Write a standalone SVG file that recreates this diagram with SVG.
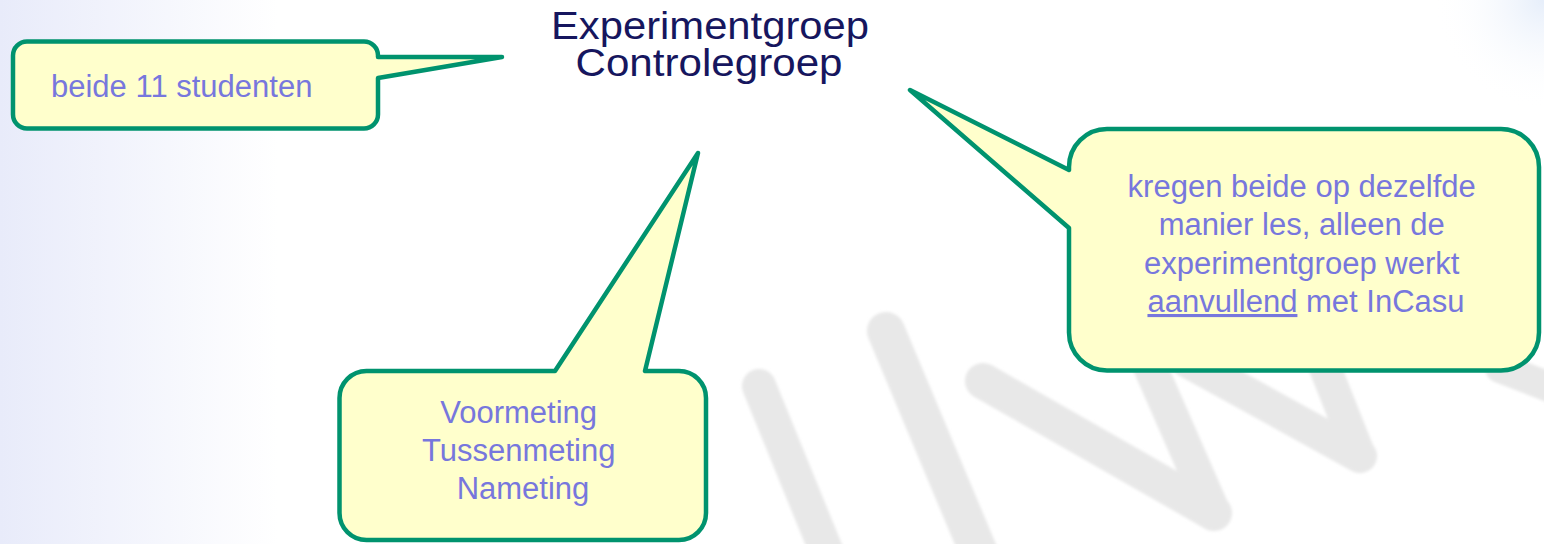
<svg xmlns="http://www.w3.org/2000/svg" width="1544" height="544" viewBox="0 0 1544 544">
  <defs>
    <linearGradient id="bgLeft" x1="0" y1="0" x2="1" y2="0" gradientUnits="objectBoundingBox">
      <stop offset="0" stop-color="#E8EBFA"/>
      <stop offset="0.18" stop-color="#FFFFFF"/>
      <stop offset="1" stop-color="#FFFFFF"/>
    </linearGradient>
    <radialGradient id="bgTR" cx="1544" cy="0" r="110" gradientUnits="userSpaceOnUse">
      <stop offset="0" stop-color="#E6EEFA"/>
      <stop offset="1" stop-color="#FFFFFF" stop-opacity="0"/>
    </radialGradient>
    <filter id="soft" x="-10%" y="-10%" width="120%" height="120%">
      <feGaussianBlur stdDeviation="1.5"/>
    </filter>
    <style>
      .bubble { fill: #FFFFCC; stroke: #00936E; stroke-width: 4.5; stroke-linejoin: round; }
      .btext { font-family: "Liberation Sans", Arial, sans-serif; font-size: 31px; fill: #7777DD; }
      .title { font-family: "Liberation Sans", Arial, sans-serif; font-size: 38px; fill: #16165E; text-anchor: middle; }
      .wm { fill: none; stroke: #E8E8E8; stroke-linecap: round; }
    </style>
  </defs>

  <!-- background -->
  <rect x="0" y="0" width="1544" height="544" fill="url(#bgLeft)"/>
  <rect x="1400" y="0" width="144" height="140" fill="url(#bgTR)"/>

  <!-- watermark -->
  <g id="watermark" filter="url(#soft)">
    <line class="wm" x1="759" y1="386" x2="830" y2="560" stroke-width="34"/>
    <line class="wm" x1="886" y1="331" x2="982" y2="560" stroke-width="38"/>
    <line class="wm" x1="983" y1="381" x2="1214" y2="513" stroke-width="36"/>
    <line class="wm" x1="1214" y1="513" x2="1134" y2="330" stroke-width="34"/>
    <line class="wm" x1="1186" y1="360" x2="1360" y2="456" stroke-width="34"/>
    <line class="wm" x1="1360" y1="456" x2="1318" y2="350" stroke-width="32"/>
    <line class="wm" x1="1500" y1="368" x2="1570" y2="395" stroke-width="30"/>
  </g>

  <!-- title -->
  <g id="title">
    <text class="title" x="710" y="39" textLength="318" lengthAdjust="spacingAndGlyphs">Experimentgroep</text>
    <text class="title" x="709" y="76" textLength="267" lengthAdjust="spacingAndGlyphs">Controlegroep</text>
  </g>

  <!-- callouts -->
  <g id="callout-studenten">
    <path class="bubble" d="M 27,41.5 H 364 A 14 14 0 0 1 378,55.5 V 57 L 502,57 L 378,78 V 114.5 A 14 14 0 0 1 364,128.5 H 27 A 14 14 0 0 1 13,114.5 V 55.5 A 14 14 0 0 1 27,41.5 Z"/>
    <text class="btext" x="51" y="97">beide 11 studenten</text>
  </g>

  <g id="callout-metingen">
    <path class="bubble" d="M 366.5,371 H 555 L 698,153 L 645,371 H 679 A 27 27 0 0 1 706,398 V 513 A 27 27 0 0 1 679,540 H 366.5 A 27 27 0 0 1 339.5,513 V 398 A 27 27 0 0 1 366.5,371 Z"/>
    <text class="btext" text-anchor="middle">
      <tspan x="523" y="423">Voormeting</tspan>
      <tspan x="523" y="461">Tussenmeting</tspan>
      <tspan x="523" y="499">Nameting</tspan>
    </text>
  </g>

  <g id="callout-les">
    <path class="bubble" d="M 1107,129 H 1501 A 38 38 0 0 1 1539,167 V 332.5 A 38 38 0 0 1 1501,370.5 H 1107 A 38 38 0 0 1 1069,332.5 V 228 L 910,90 L 1069,170 V 167 A 38 38 0 0 1 1107,129 Z"/>
    <text class="btext" text-anchor="middle">
      <tspan x="1306" y="197">kregen beide op dezelfde</tspan>
      <tspan x="1306" y="235">manier les, alleen de</tspan>
      <tspan x="1306" y="274">experimentgroep werkt</tspan>
      <tspan x="1306" y="312"><tspan text-decoration="underline">aanvullend</tspan> met InCasu</tspan>
    </text>
  </g>

  <!-- connectors: callout tails are part of the bubble shapes -->
  <g id="connectors"></g>
</svg>
